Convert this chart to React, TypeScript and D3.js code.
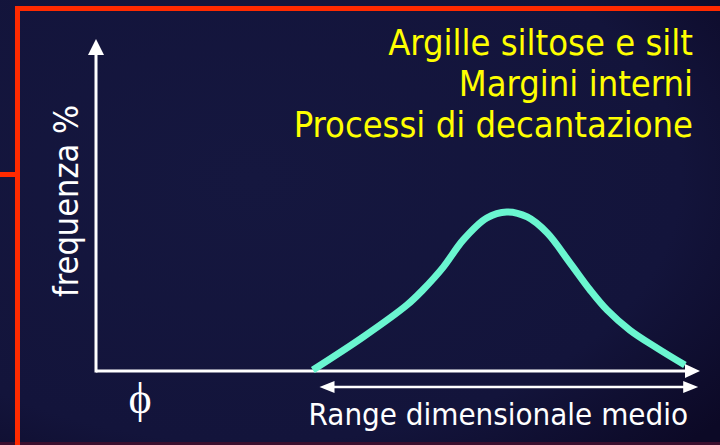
import React, { useEffect, useRef } from "react";
import * as d3 from "d3";

// curve (x: size axis 0-100, y: frequency 0-100)
const curveX = [35.9, 44.2, 51.5, 54.1, 57.5, 60.8, 64.7, 68.0, 71.4, 74.7, 78.5, 81.8, 84.6, 88.4, 92.9, 97.5];
const curveY = [0.3, 10.2, 19.9, 24.4, 31.3, 39.5, 46.1, 47.9, 46.4, 41.6, 32.5, 24.4, 18.4, 12.3, 6.9, 1.8];
const titleLines = ["Argille siltose e silt", "Margini interni", "Processi di decantazione"];
const yLabel = "frequenza %";
const xSymbol = "\u03d5";
const rangeLabel = "Range dimensionale medio";
const rangeExtent = [37, 99.7];

const W = 720;
const H = 445;
const FONT = "'DejaVu Sans Condensed', 'DejaVu Sans', sans-serif";

const App: React.FC = () => {
  const svgRef = useRef<SVGSVGElement>(null);

  useEffect(() => {
    document.body.style.margin = "0";
    if (!svgRef.current) return;
    const svg = d3.select(svgRef.current);
    svg.selectAll("*").remove();

    const x = d3.scaleLinear().domain([0, 100]).range([96, 700]);
    const y = d3.scaleLinear().domain([0, 100]).range([371, 39]);

    const defs = svg.append("defs");
    const bg = defs
      .append("radialGradient")
      .attr("id", "bg")
      .attr("cx", "0.35")
      .attr("cy", "0.4")
      .attr("r", "0.85");
    bg.append("stop").attr("offset", "0").attr("stop-color", "#15173f");
    bg.append("stop").attr("offset", "0.7").attr("stop-color", "#13143b");
    bg.append("stop").attr("offset", "1").attr("stop-color", "#0c0926");

    svg.append("rect").attr("width", W).attr("height", H).attr("fill", "url(#bg)");
    svg
      .append("rect")
      .attr("x", 0)
      .attr("y", H - 3)
      .attr("width", W)
      .attr("height", 3)
      .attr("fill", "#3a0f2e");

    // red frame
    const red = "#ff2a00";
    svg.append("line").attr("x1", 15).attr("x2", W).attr("y1", 8.5).attr("y2", 8.5)
      .attr("stroke", red).attr("stroke-width", 5);
    svg.append("line").attr("x1", 17.5).attr("x2", 17.5).attr("y1", 6).attr("y2", H)
      .attr("stroke", red).attr("stroke-width", 5);
    svg.append("line").attr("x1", 0).attr("x2", 17.5).attr("y1", 174.5).attr("y2", 174.5)
      .attr("stroke", red).attr("stroke-width", 5);

    const g = svg.append("g");
    const [x0, x1] = x.range();
    const [y0, y1] = y.range();

    // axes
    g.append("line").attr("x1", x0).attr("x2", x0).attr("y1", y0 + 1.5).attr("y2", y1 + 14)
      .attr("stroke", "#fff").attr("stroke-width", 3);
    g.append("path")
      .attr("d", `M${x0},${y1} L${x0 - 8},${y1 + 16} L${x0 + 8},${y1 + 16} Z`)
      .attr("fill", "#fff");
    g.append("line").attr("x1", x0).attr("x2", x1 - 14).attr("y1", y0).attr("y2", y0)
      .attr("stroke", "#fff").attr("stroke-width", 3);
    g.append("path")
      .attr("d", `M${x1},${y0} L${x1 - 15},${y0 - 7} L${x1 - 15},${y0 + 7} Z`)
      .attr("fill", "#fff");

    // range double arrow
    const ra = x(rangeExtent[0]);
    const rb = x(rangeExtent[1]);
    const ry = y0 + 16;
    g.append("line").attr("x1", ra + 10).attr("x2", rb - 10).attr("y1", ry).attr("y2", ry)
      .attr("stroke", "#fff").attr("stroke-width", 2.5);
    g.append("path")
      .attr("d", `M${ra},${ry} L${ra + 15},${ry - 6} L${ra + 15},${ry + 6} Z`)
      .attr("fill", "#fff");
    g.append("path")
      .attr("d", `M${rb},${ry} L${rb - 15},${ry - 6} L${rb - 15},${ry + 6} Z`)
      .attr("fill", "#fff");

    // curve
    const pts = curveX.map((d, i) => [d, curveY[i]] as [number, number]);
    const line = d3
      .line<[number, number]>()
      .x((d) => x(d[0]))
      .y((d) => y(d[1]))
      .curve(d3.curveCatmullRom.alpha(0.5));
    g.append("path")
      .attr("d", line(pts))
      .attr("fill", "none")
      .attr("stroke", "#6af6d0")
      .attr("stroke-width", 7)
      .attr("stroke-linecap", "butt");

    // texts
    g.selectAll(".title")
      .data(titleLines)
      .enter()
      .append("text")
      .attr("class", "title")
      .attr("x", 693)
      .attr("y", (_d, i) => 55 + i * 41)
      .attr("text-anchor", "end")
      .style("font-family", FONT)
      .style("font-stretch", "condensed")
      .style("font-size", "36px")
      .attr("fill", "#ffff00")
      .text((d) => d);

    g.append("text")
      .attr("transform", "translate(78,201) rotate(-90)")
      .attr("text-anchor", "middle")
      .style("font-family", FONT)
      .style("font-stretch", "condensed")
      .style("font-size", "34px")
      .attr("fill", "#fff")
      .text(yLabel);

    g.append("text")
      .attr("x", 140)
      .attr("y", 413)
      .attr("text-anchor", "middle")
      .style("font-family", "'Liberation Serif', 'DejaVu Serif', serif")
      .style("font-size", "44px")
      .attr("fill", "#fff")
      .text(xSymbol);

    g.append("text")
      .attr("x", 688)
      .attr("y", 425)
      .attr("text-anchor", "end")
      .style("font-family", FONT)
      .style("font-stretch", "condensed")
      .style("font-size", "31px")
      .attr("fill", "#fff")
      .text(rangeLabel);
  }, []);

  return (
    <svg
      ref={svgRef}
      width={W}
      height={H}
      style={{ display: "block", position: "absolute", left: 0, top: 0 }}
    />
  );
};

export default App;
